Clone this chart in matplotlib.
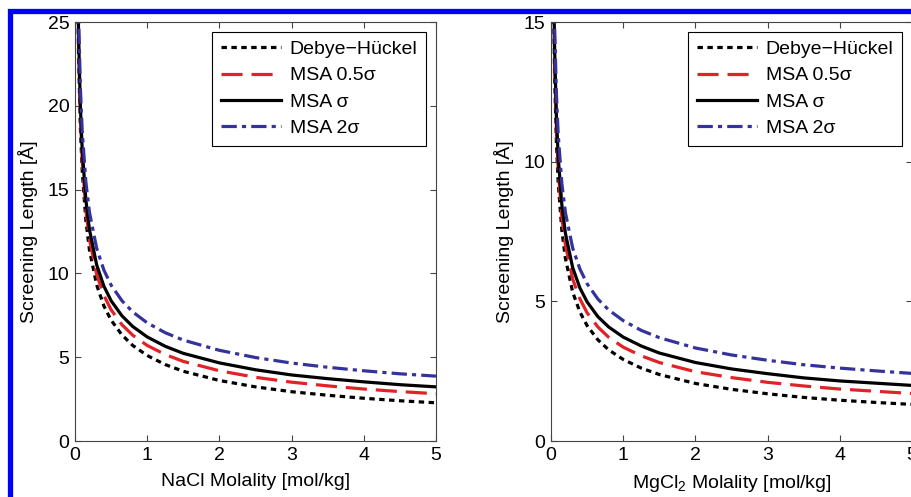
import matplotlib
matplotlib.use("Agg")
import matplotlib.pyplot as plt
from matplotlib.patches import Rectangle

plt.rcParams['font.family'] = ['Liberation Sans', 'DejaVu Sans']
plt.rcParams['mathtext.default'] = 'regular'
plt.rcParams['font.size'] = 14

# molality grid [mol/kg]
molality = [0.03, 0.05, 0.075, 0.1, 0.15, 0.2, 0.3, 0.4, 0.5, 0.65, 0.8, 1.0,
            1.25, 1.5, 2.0, 2.5, 3.0, 3.5, 4.0, 4.5, 5.0]

# NaCl screening lengths [A]
nacl_dh = [29.44, 22.81, 18.62, 16.13, 13.17, 11.40, 9.31, 8.06, 7.21, 6.33, 5.70,
           5.10, 4.56, 4.16, 3.61, 3.23, 2.94, 2.73, 2.55, 2.40, 2.28]
nacl_half = [30.10, 23.47, 19.27, 16.78, 13.81, 12.04, 9.94, 8.69, 7.83, 6.94, 6.31,
             5.70, 5.16, 4.75, 4.19, 3.80, 3.51, 3.29, 3.10, 2.95, 2.82]
nacl_one = [30.73, 24.09, 19.89, 17.38, 14.40, 12.62, 10.51, 9.24, 8.37, 7.47, 6.83,
            6.21, 5.65, 5.23, 4.66, 4.25, 3.94, 3.72, 3.53, 3.36, 3.23]
nacl_two = [31.93, 25.25, 21.01, 18.49, 15.47, 13.65, 11.50, 10.20, 9.30, 8.37, 7.70,
            7.05, 6.46, 6.02, 5.41, 4.98, 4.65, 4.40, 4.19, 4.01, 3.87]

# MgCl2 screening lengths [A]
mgcl_dh = [16.86, 13.06, 10.66, 9.23, 7.54, 6.53, 5.33, 4.62, 4.13, 3.62, 3.26,
           2.92, 2.61, 2.38, 2.06, 1.85, 1.69, 1.56, 1.46, 1.38, 1.31]
mgcl_half = [17.36, 13.55, 11.15, 9.72, 8.02, 7.01, 5.80, 5.09, 4.59, 4.08, 3.71,
             3.36, 3.05, 2.81, 2.48, 2.27, 2.10, 1.97, 1.86, 1.78, 1.70]
mgcl_one = [17.83, 14.02, 11.60, 10.16, 8.46, 7.43, 6.21, 5.48, 4.98, 4.45, 4.08,
            3.72, 3.40, 3.15, 2.81, 2.58, 2.41, 2.26, 2.15, 2.07, 1.99]
mgcl_two = [18.71, 14.86, 12.42, 10.96, 9.22, 8.17, 6.91, 6.16, 5.63, 5.08, 4.69,
            4.31, 3.96, 3.70, 3.33, 3.08, 2.89, 2.73, 2.61, 2.51, 2.42]

labels = ['Debye\u2212H\u00fcckel', 'MSA 0.5\u03c3', 'MSA \u03c3', 'MSA 2\u03c3']
xlabels = ['NaCl Molality [mol/kg]', 'MgCl$_2$ Molality [mol/kg]']
ylims = [25, 15]
yticks = [[0, 5, 10, 15, 20, 25], [0, 5, 10, 15]]

lw = 2.3
styles = [
    dict(color='black', dashes=(1.7, 1.4)),
    dict(color='#e32228', dashes=(6.6, 2.8)),
    dict(color='black'),
    dict(color='#33339b', dashes=(4.8, 1.6, 1.3, 1.6)),
]

fig = plt.figure(figsize=(9.11, 4.97), dpi=100)
axes = [fig.add_axes([75 / 911, 56 / 497, 361 / 911, 419 / 497]),
        fig.add_axes([551 / 911, 56 / 497, 361 / 911, 419 / 497])]

panels = [[nacl_dh, nacl_half, nacl_one, nacl_two],
          [mgcl_dh, mgcl_half, mgcl_one, mgcl_two]]

for i, ax in enumerate(axes):
    for series, lab, st in zip(panels[i], labels, styles):
        ax.plot(molality, series, lw=lw, label=lab, **st)
    ax.set_xlim(0, 5)
    ax.set_ylim(0, ylims[i])
    ax.set_yticks(yticks[i])
    ax.set_xticks([0, 1, 2, 3, 4, 5])
    ax.tick_params(direction='in', top=True, right=True, length=4,
                   width=0.8, color='#444444', labelsize=14, pad=4)
    for sp in ax.spines.values():
        sp.set_color('#444444')
        sp.set_linewidth(0.8)
    ax.set_xlabel(xlabels[i], fontsize=14, labelpad=7)
    ax.set_ylabel('Screening Length [\u00c5]', fontsize=14, labelpad=7)
    leg = ax.legend(loc='upper right', fontsize=14, handlelength=3.1,
                    handletextpad=0.45, labelspacing=0.45, borderpad=0.45,
                    borderaxespad=0.5, fancybox=False, framealpha=1)
    leg.get_frame().set_edgecolor('black')
    leg.get_frame().set_linewidth(0.8)

# blue frame around the figure
fig.add_artist(Rectangle((9.5 / 911, -0.2), 2.0, 1.2 - 10.5 / 497,
                         transform=fig.transFigure, fill=False,
                         edgecolor='#0000ff', linewidth=3.8, clip_on=False))

fig.savefig('out.png', dpi=100)
